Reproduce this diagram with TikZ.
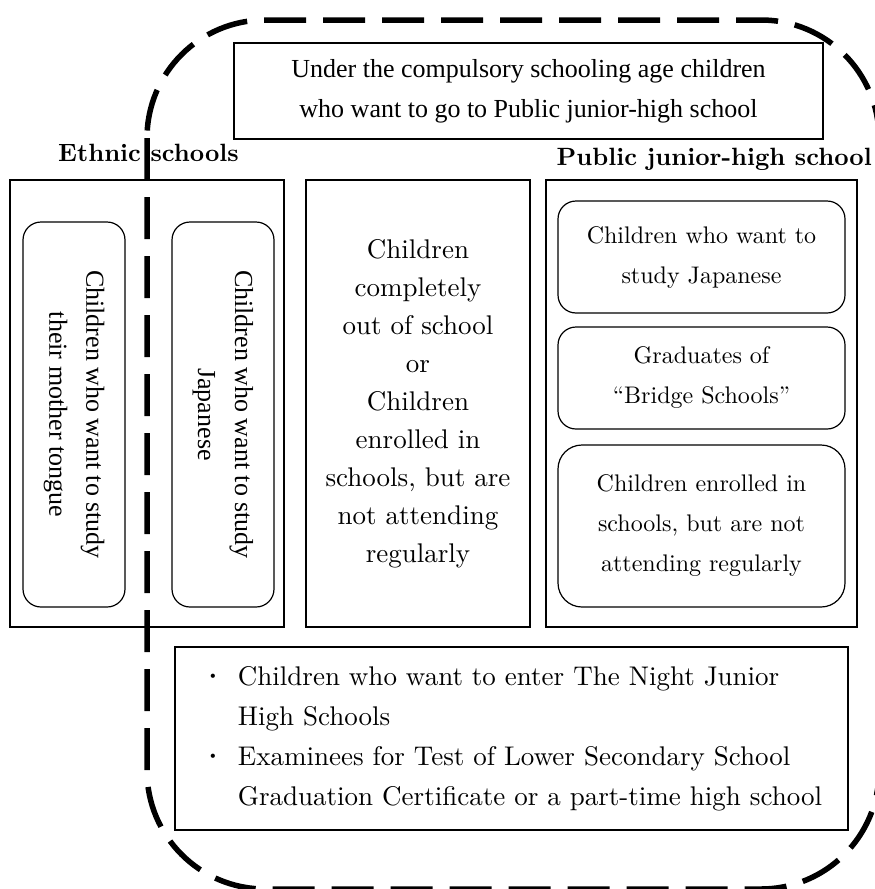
\documentclass[tikz,border=0pt]{standalone}
\usepackage{fontspec}
\setmainfont{lmroman10}[Extension=.otf, UprightFont=*-regular, BoldFont=*-bold, ItalicFont=*-italic, BoldItalicFont=*-bolditalic]
\newfontfamily\timesfont{Liberation Serif}
\usepackage{tikz}
\tikzstyle{group} = [rectangle, draw=black, line width=1.2pt, inner sep=0pt, text centered]
\tikzstyle{member} = [rectangle, rounded corners=18pt, draw=black, line width=1.2pt, inner sep=0pt, text centered]
\tikzstyle{heading} = [inner sep=0pt, font=\fontsize{25}{30}\selectfont\bfseries]
\tikzstyle{times} = [align=center, font=\timesfont\fontsize{26}{40}\selectfont]
\tikzstyle{century} = [align=center, font=\fontsize{24}{40}\selectfont]
\tikzstyle{outline} = [line width=5.5pt, dash pattern=on 42pt off 17pt, rounded corners=118pt]

\begin{document}
\begin{tikzpicture}[x=1pt, y=-1pt]
        \useasboundingbox (0,0) rectangle (875,889);

        \node (node0) [group, times, minimum width=589pt, minimum height=96pt] at (528.5,91) {Under the compulsory schooling age children\\who want to go to Public junior-high school};

        % ethnic schools
        \node (node1) [group, minimum width=274pt, minimum height=447pt] at (147,403.5) {};
        \node (node2) [heading, anchor=base west] at (58,161) {Ethnic schools};
        \node (node3) [member, times, font=\timesfont\fontsize{26}{37}\selectfont, rotate=-90, minimum width=385pt, minimum height=102pt] at (74,414.5) {Children who want to study\\their mother tongue};
        \node (node4) [member, times, font=\timesfont\fontsize{26}{37}\selectfont, rotate=-90, minimum width=385pt, minimum height=102pt] at (223,414.5) {Children who want to study\\Japanese};

        \node (node5) [group, century, font=\fontsize{27}{38}\selectfont, minimum width=224pt, minimum height=447pt] at (418,403.5) {Children\\completely\\out of school\\or\\Children\\enrolled in\\schools, but are\\not attending\\regularly};

        % public junior-high school
        \node (node6) [group, minimum width=311pt, minimum height=447pt] at (701.5,403.5) {};
        \node (node7) [heading, anchor=base east] at (872,165) {Public junior-high school};
        \node (node8) [member, century, minimum width=287pt, minimum height=112pt] at (701.5,257) {Children who want to\\study Japanese};
        \node (node9) [member, century, minimum width=287pt, minimum height=102pt, below of=node8, node distance=121pt] {Graduates of\\``Bridge Schools''};
        \node (node10) [member, century, rounded corners=24pt, minimum width=287pt, minimum height=162pt, below of=node9, node distance=148pt] {Children enrolled in\\schools, but are not\\attending regularly};

        \node (node11) [group, century, align=left, font=\fontsize{27}{40}\selectfont, minimum width=673pt, minimum height=183pt] at (511.5,738.5) {\makebox[37pt][l]{\textbf{\textperiodcentered}}Children who want to enter The Night Junior\\\hspace*{37pt}High Schools\\\makebox[37pt][l]{\textbf{\textperiodcentered}}Examinees for Test of Lower Secondary School\\\hspace*{37pt}Graduation Certificate or a part-time high school};

        \draw [outline] (147,20) rectangle (879,889);
    \end{tikzpicture}
\end{document}
